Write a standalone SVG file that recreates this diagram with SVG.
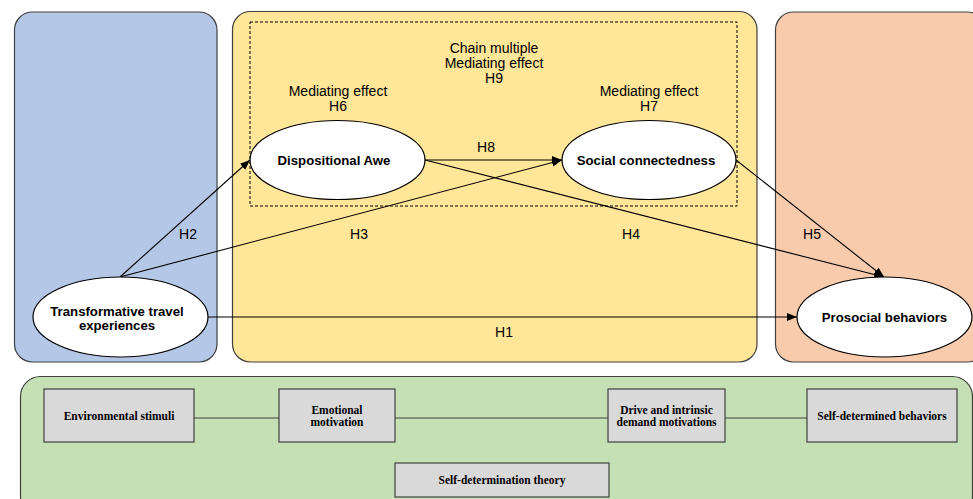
<svg xmlns="http://www.w3.org/2000/svg" width="973" height="499" viewBox="0 0 973 499">
<defs>
<marker id="arr" viewBox="0 0 10 10" refX="10" refY="5" markerWidth="10" markerHeight="10" markerUnits="userSpaceOnUse" orient="auto">
<path d="M0,1 L10,5 L0,9 Z" fill="#000"/>
</marker>
</defs>
<style>
.panel{stroke:#404040;stroke-width:1.2}
.ell{fill:#fff;stroke:#000;stroke-width:1.2}
.et{font-family:"Liberation Sans",Arial,sans-serif;font-weight:bold;font-size:13.2px;fill:#000;text-anchor:middle;dominant-baseline:central}
.lb{font-family:"Liberation Sans",Arial,sans-serif;font-size:14px;fill:#000;text-anchor:middle;dominant-baseline:central}
.box{fill:#d9d9d9;stroke:#404040;stroke-width:1.2}
.bt{font-family:"Liberation Serif","Times New Roman",serif;font-weight:bold;font-size:11.5px;fill:#000;text-anchor:middle;dominant-baseline:central}
.cn{stroke:#000;stroke-width:1.1;fill:none}
.sd{stroke:#404040;stroke-width:1.2;fill:none}
</style>
<rect x="0" y="0" width="973" height="499" fill="#fff"/>
<g id="panels">
<rect class="panel" x="14.5" y="12" width="202.5" height="350" rx="18" fill="#b4c7e7"/>
<rect class="panel" x="232.5" y="11.5" width="524.5" height="350.5" rx="18" fill="#ffe699"/>
<rect class="panel" x="775.5" y="12" width="210" height="350" rx="18" fill="#f8cbad"/>
<rect class="panel" x="20.5" y="376.5" width="952" height="140" rx="20" fill="#c5e0b4"/>
<rect x="250" y="22" width="487" height="184" fill="none" stroke="#000" stroke-width="1" stroke-dasharray="3,2"/>
</g>
<g id="labels">
<text class="lb" x="494" y="48">Chain multiple</text>
<text class="lb" x="494" y="63">Mediating effect</text>
<text class="lb" x="494" y="78">H9</text>
<text class="lb" x="338" y="91">Mediating effect</text>
<text class="lb" x="338" y="106">H6</text>
<text class="lb" x="649" y="91">Mediating effect</text>
<text class="lb" x="649" y="106">H7</text>
<text class="lb" x="486" y="147">H8</text>
<text class="lb" x="188" y="234">H2</text>
<text class="lb" x="359" y="234">H3</text>
<text class="lb" x="631" y="234">H4</text>
<text class="lb" x="812" y="234">H5</text>
<text class="lb" x="504" y="332">H1</text>
</g>
<g id="connectors">
<line class="cn" x1="120" y1="277" x2="250" y2="160" marker-end="url(#arr)"/>
<line class="cn" x1="120" y1="277" x2="562" y2="160" marker-end="url(#arr)"/>
<line class="cn" x1="425" y1="160" x2="562" y2="160" marker-end="url(#arr)"/>
<line class="cn" x1="425" y1="160" x2="884" y2="277" marker-end="url(#arr)"/>
<line class="cn" x1="736" y1="160" x2="884" y2="277" marker-end="url(#arr)"/>
<line class="cn" x1="208" y1="317" x2="797" y2="317" marker-end="url(#arr)"/>
<line class="sd" x1="194" y1="418" x2="279" y2="418"/>
<line class="sd" x1="395" y1="418" x2="608" y2="418"/>
<line class="sd" x1="725" y1="418" x2="807" y2="418"/>
</g>
<g id="node-awe">
<ellipse class="ell" cx="337.5" cy="160" rx="87.5" ry="39.5"/>
<text class="et" x="334" y="160">Dispositional Awe</text>
</g>
<g id="node-social">
<ellipse class="ell" cx="649" cy="160" rx="87" ry="39.5"/>
<text class="et" x="646" y="160">Social connectedness</text>
</g>
<g id="node-travel">
<ellipse class="ell" cx="120.5" cy="317" rx="87.5" ry="40"/>
<text class="et" x="117" y="311">Transformative travel</text>
<text class="et" x="117" y="325">experiences</text>
</g>
<g id="node-prosocial">
<ellipse class="ell" cx="884.5" cy="317" rx="87.5" ry="40"/>
<text class="et" x="884.5" y="317">Prosocial behaviors</text>
</g>
<g id="node-env">
<rect class="box" x="44" y="389" width="150" height="53"/>
<text class="bt" x="119" y="416">Environmental stimuli</text>
</g>
<g id="node-emo">
<rect class="box" x="279" y="389" width="116" height="53"/>
<text class="bt" x="337" y="410">Emotional</text>
<text class="bt" x="337" y="421.5">motivation</text>
</g>
<g id="node-drive">
<rect class="box" x="608" y="389" width="117" height="53"/>
<text class="bt" x="666.5" y="410">Drive and intrinsic</text>
<text class="bt" x="666.5" y="421.5">demand motivations</text>
</g>
<g id="node-selfbeh">
<rect class="box" x="807" y="389" width="150" height="53"/>
<text class="bt" x="882" y="416">Self-determined behaviors</text>
</g>
<g id="node-sdt">
<rect class="box" x="395" y="463" width="214" height="34"/>
<text class="bt" x="502" y="480">Self-determination theory</text>
</g>
</svg>
